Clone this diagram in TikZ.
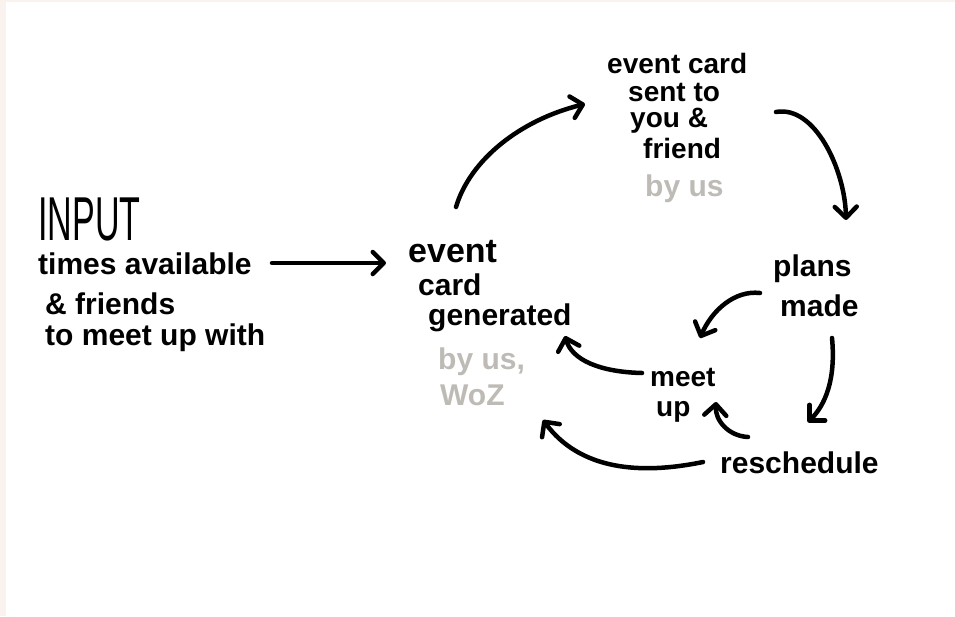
\documentclass[tikz,border=0pt]{standalone}
\usepackage{fontspec}
\setmainfont{Liberation Sans}
\usetikzlibrary{arrows.meta,calc}
\definecolor{pinkbg}{HTML}{FAF2EE}
\definecolor{usgray}{HTML}{BEBBB6}
\tikzset{
 hw/.style={anchor=base west, inner sep=0pt, font=\fontsize{30}{30}\selectfont\bfseries, text=black},
 hwsmall/.style={hw, font=\fontsize{28}{28}\selectfont\bfseries},
 hwgray/.style={hw, text=usgray},
 arr/.style={line width=4.5pt, line cap=round, line join=round,
   -{Straight Barb[length=11pt,width=22pt,line cap=round,line join=round]}},
}
\begin{document}
\begin{tikzpicture}[x=1pt,y=-1pt]
\fill[pinkbg] (0,0) rectangle (955,616);
\fill[white] (6,2) rectangle (955,616);
\useasboundingbox (0,0) rectangle (955,616);

% input
\node[anchor=base west, inner sep=0pt, font=\fontsize{62}{62}\selectfont] (input) at (38,240) {\scalebox{0.55}[1]{INPUT}};
\node[hw] (times) at (38,274) {times available};
\node[hw] (friends) at (45,314) {\& friends};
\node[hw] (tomeet) at (45,345) {to meet up with};

% event card generated
\node[hw, font=\fontsize{34}{34}\selectfont\bfseries] (gen1) at (408,262) {event};
\node[hw] (gen2) at (418,295) {card};
\node[hw] (gen3) at (428,325) {generated};
\node[hwgray] (gen4) at (438,369) {by us,};
\node[hwgray] (gen5) at (440,405) {WoZ};

% event card sent
\node[hwsmall] (sent1) at (607,73) {event card};
\node[hwsmall] (sent2) at (628,101) {sent to};
\node[hwsmall] (sent3) at (630,127) {you \&};
\node[hwsmall] (sent4) at (643,158) {friend};
\node[hwgray] (sent5) at (645,196) {by us};

% plans made
\node[hw] (plans1) at (773,276) {plans};
\node[hw] (plans2) at (780,316) {made};

% meet up
\node[hwsmall] (meet1) at (650,386) {meet};
\node[hwsmall] (meet2) at (656,416) {up};

% reschedule
\node[hw] (resch) at (720,473) {reschedule};

% connectors
\draw[arr] ($(times.base west)+(234,-11)$) -- ($(gen1.base west)+(-22,1)$);
\draw[arr] ($(gen1.base west)+(48,-55)$) .. controls +(14,-47) and +(-65,16) .. ($(sent1.base west)+(-22,31)$);
\draw[arr] ($(sent2.base west)+(148,11)$) .. controls +(39,-7) and +(-1,-50) .. ($(plans1.base west)+(73,-56)$);
\draw[arr] ($(plans1.base west)+(-13,17)$) .. controls +(-25,-3) and +(12,-28) .. ($(meet1.base west)+(50,-48)$);
\draw[arr] ($(plans2.base west)+(52,22)$) .. controls +(4,42) and +(17,-17) .. ($(resch.base west)+(88,-51)$);
\draw[arr] ($(resch.base west)+(28,-36)$) .. controls +(-20,-1) and +(-1,18) .. ($(meet2.base west)+(60,-14)$);
\draw[arr] ($(meet1.base west)+(-8,-13)$) .. controls +(-42,-1) and +(7,24) .. ($(gen3.base west)+(137,11)$);
\draw[arr] ($(resch.base west)+(-17,-11)$) .. controls +(-63,13) and +(37,50) .. ($(gen5.base west)+(103,15)$);
\end{tikzpicture}
\end{document}
